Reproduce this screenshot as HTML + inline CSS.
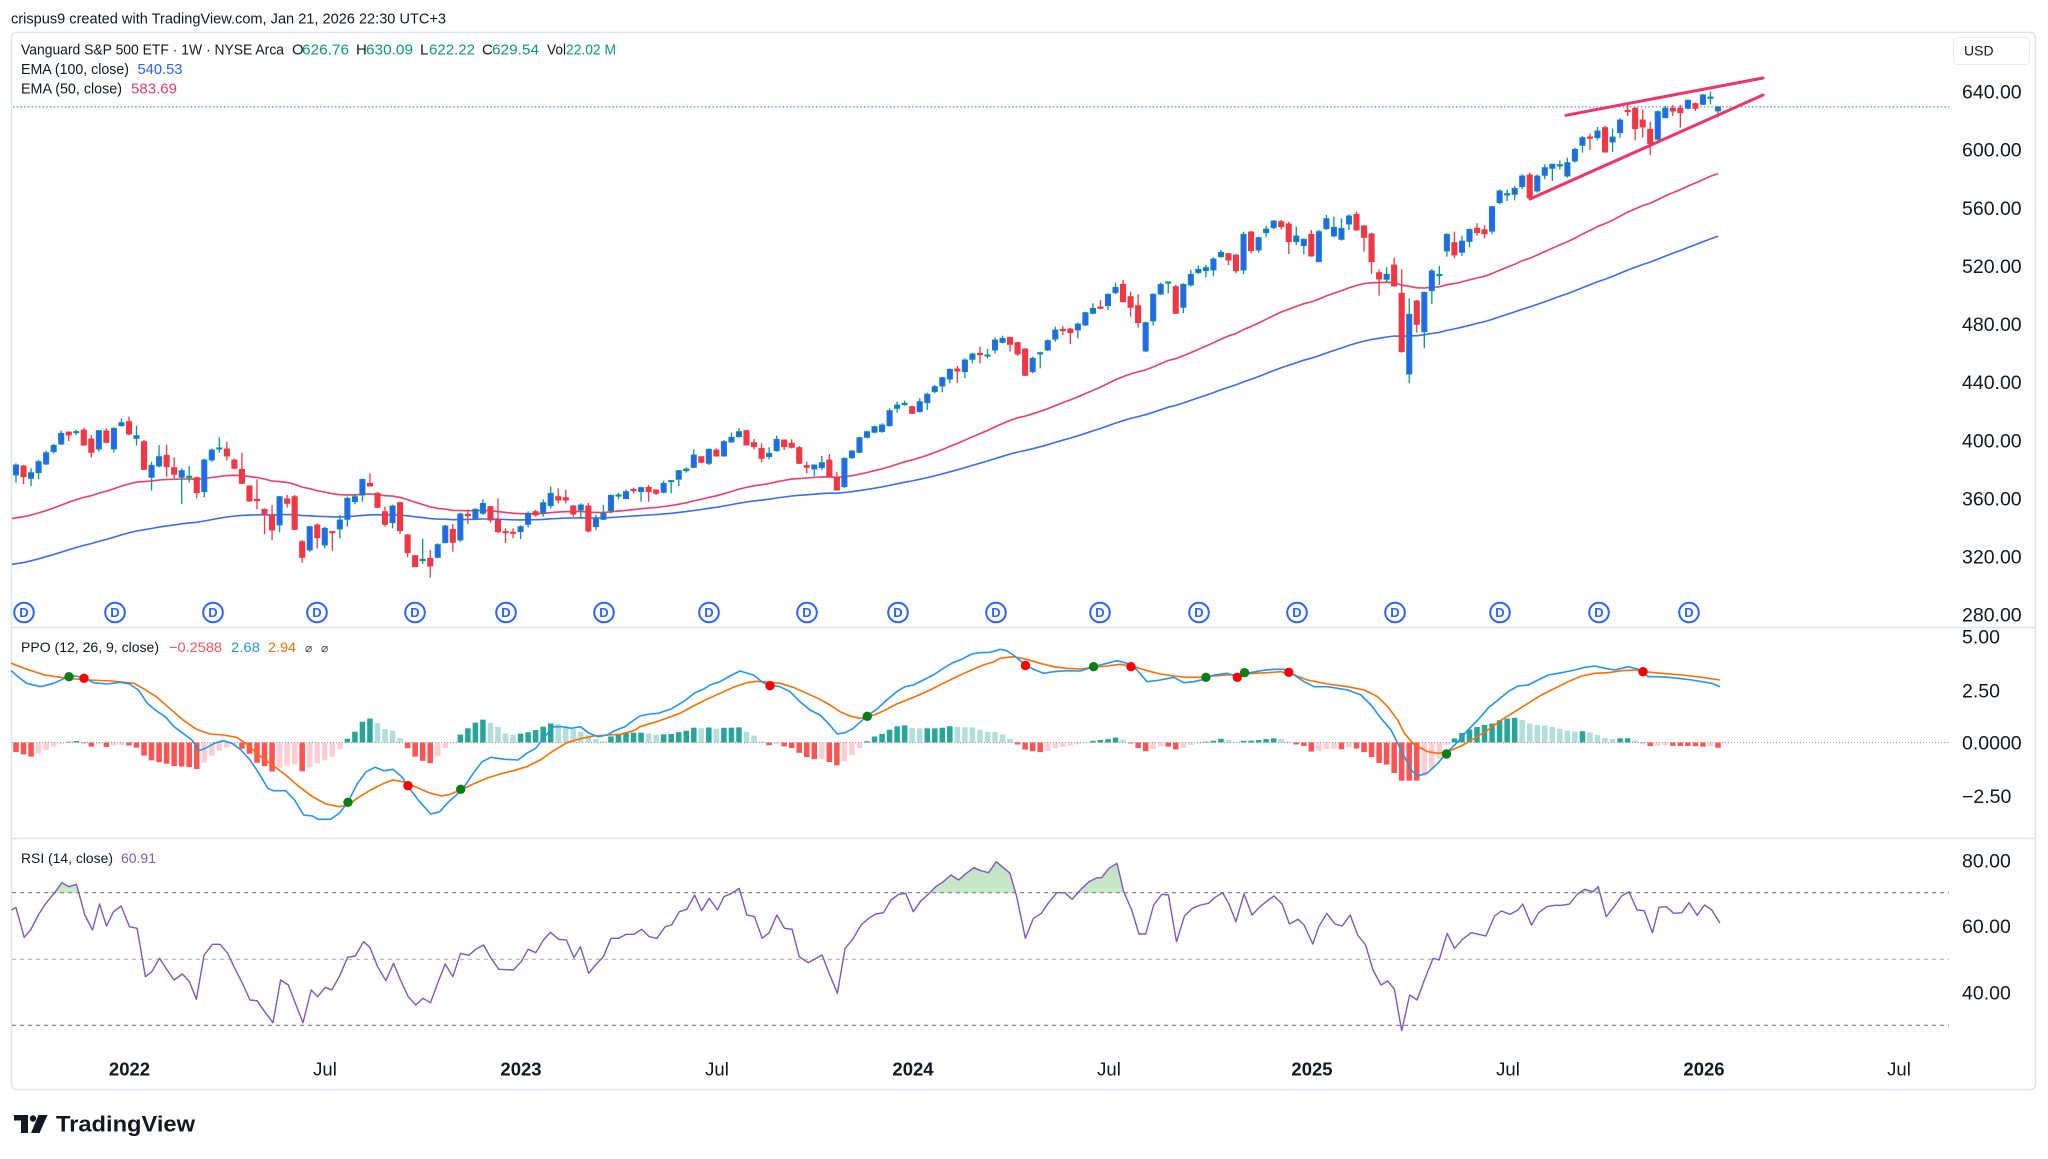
<!DOCTYPE html>
<html><head><meta charset="utf-8"><title>VOO chart</title>
<style>
html,body{margin:0;padding:0;background:#fff;width:2048px;height:1159px;overflow:hidden}
svg{display:block}
text{font-family:"Liberation Sans",Arial,sans-serif}
</style></head>
<body>
<svg id="c" width="2048" height="1159" viewBox="0 0 2048 1159" xmlns="http://www.w3.org/2000/svg">
<defs>
<linearGradient id="gOB" x1="0" y1="0" x2="0" y2="1"><stop offset="0" stop-color="#4caf50" stop-opacity="0.35"/><stop offset="1" stop-color="#4caf50" stop-opacity="0.04"/></linearGradient>
<linearGradient id="gOS" x1="0" y1="0" x2="0" y2="1"><stop offset="0" stop-color="#f23645" stop-opacity="0.04"/><stop offset="1" stop-color="#f23645" stop-opacity="0.35"/></linearGradient>
<clipPath id="cOB"><rect x="0" y="838" width="2048" height="55"/></clipPath>
<clipPath id="cOS"><rect x="0" y="1025.3" width="2048" height="40"/></clipPath>
</defs>
<rect width="2048" height="1159" fill="#fff"/>
<rect x="11.5" y="32.5" width="2024" height="1057" rx="5" fill="#fff" stroke="#e0e3eb" stroke-width="1.5"/>
<line x1="11.5" y1="627.5" x2="2035.5" y2="627.5" stroke="#e0e3eb" stroke-width="1.5"/>
<line x1="11.5" y1="838.5" x2="2035.5" y2="838.5" stroke="#e0e3eb" stroke-width="1.5"/>

<g id="gMain"></g>
<g id="gPPO"></g>
<g id="gRSI"></g>

<!-- title & legends -->
<text x="11" y="23.5" font-size="15" fill="#131722" textLength="435" lengthAdjust="spacingAndGlyphs">crispus9 created with TradingView.com, Jan 21, 2026 22:30 UTC+3</text>
<g font-size="15" fill="#131722">
<text x="21" y="54.5" textLength="263" lengthAdjust="spacingAndGlyphs">Vanguard S&amp;P 500 ETF · 1W · NYSE Arca</text>
<text x="292" y="54.5">O</text><text x="302" y="54.5" fill="#089981" textLength="47" lengthAdjust="spacingAndGlyphs">626.76</text>
<text x="356" y="54.5">H</text><text x="366" y="54.5" fill="#089981" textLength="47" lengthAdjust="spacingAndGlyphs">630.09</text>
<text x="420" y="54.5">L</text><text x="429" y="54.5" fill="#089981" textLength="46" lengthAdjust="spacingAndGlyphs">622.22</text>
<text x="482" y="54.5">C</text><text x="492" y="54.5" fill="#089981" textLength="47" lengthAdjust="spacingAndGlyphs">629.54</text>
<text x="547" y="54.5" textLength="19" lengthAdjust="spacingAndGlyphs">Vol</text><text x="566" y="54.5" fill="#089981" textLength="50" lengthAdjust="spacingAndGlyphs">22.02 M</text>
<text x="21" y="74" textLength="108" lengthAdjust="spacingAndGlyphs">EMA (100, close)</text>
<text x="137.5" y="74" fill="#2962ff" textLength="45" lengthAdjust="spacingAndGlyphs">540.53</text>
<text x="21" y="93.5" textLength="101" lengthAdjust="spacingAndGlyphs">EMA (50, close)</text>
<text x="131" y="93.5" fill="#f23a6b" textLength="46" lengthAdjust="spacingAndGlyphs">583.69</text>
</g>
<g font-size="14" fill="#131722">
<text x="21" y="652" textLength="138" lengthAdjust="spacingAndGlyphs">PPO (12, 26, 9, close)</text>
<text x="169" y="652" fill="#f7525f" textLength="53" lengthAdjust="spacingAndGlyphs">−0.2588</text>
<text x="231" y="652" fill="#2196f3" textLength="29" lengthAdjust="spacingAndGlyphs">2.68</text>
<text x="268" y="652" fill="#ff6d00" textLength="28" lengthAdjust="spacingAndGlyphs">2.94</text>
<text x="305" y="652" fill="#434651" style="font-family:'DejaVu Sans',sans-serif" font-size="12">⌀</text>
<text x="321" y="652" fill="#434651" style="font-family:'DejaVu Sans',sans-serif" font-size="12">⌀</text>
<text x="21" y="863" textLength="92" lengthAdjust="spacingAndGlyphs">RSI (14, close)</text>
<text x="121" y="863" fill="#7e57c2" textLength="35" lengthAdjust="spacingAndGlyphs">60.91</text>
</g>

<!-- price axis -->
<rect x="1953.5" y="37.5" width="76" height="27" rx="4" fill="#fff" stroke="#e9ebf0"/>
<text x="1964" y="55.5" font-size="14" fill="#131722">USD</text>
<g font-size="19.5" fill="#131722">
<text x="1962" y="98.5">640.00</text>
<text x="1962" y="156.6">600.00</text>
<text x="1962" y="214.8">560.00</text>
<text x="1962" y="272.9">520.00</text>
<text x="1962" y="331">480.00</text>
<text x="1962" y="389.2">440.00</text>
<text x="1962" y="447.3">400.00</text>
<text x="1962" y="505.4">360.00</text>
<text x="1962" y="563.6">320.00</text>
<text x="1962" y="621.7">280.00</text>
<text x="1962" y="643.5">5.00</text>
<text x="1962" y="697.5">2.50</text>
<text x="1962" y="749.5">0.0000</text>
<text x="1962" y="803">−2.50</text>
<text x="1962" y="867.5">80.00</text>
<text x="1962" y="933">60.00</text>
<text x="1962" y="999.5">40.00</text>
</g>
<!-- time axis -->
<g font-size="18.5" fill="#131722" text-anchor="middle">
<text x="129.5" y="1075.5" font-weight="bold">2022</text>
<text x="325" y="1075.5">Jul</text>
<text x="521" y="1075.5" font-weight="bold">2023</text>
<text x="717" y="1075.5">Jul</text>
<text x="913" y="1075.5" font-weight="bold">2024</text>
<text x="1109" y="1075.5">Jul</text>
<text x="1312" y="1075.5" font-weight="bold">2025</text>
<text x="1508" y="1075.5">Jul</text>
<text x="1704" y="1075.5" font-weight="bold">2026</text>
<text x="1899" y="1075.5">Jul</text>
</g>
<!-- logo -->
<g fill="#131722">
<rect x="14" y="1115" width="14" height="5.5"/>
<rect x="21" y="1115" width="7" height="18"/>
<circle cx="33" cy="1118.5" r="3.2"/>
<polygon points="38.5,1115 47.5,1115 39.5,1133 31,1133"/>
</g>
<text x="56" y="1131.5" font-size="22" font-weight="bold" fill="#131722" textLength="139" lengthAdjust="spacingAndGlyphs">TradingView</text>
</svg>

<script>
(function(){
const NS='http://www.w3.org/2000/svg';
function el(p,t,a){const e=document.createElementNS(NS,t);for(const k in a)e.setAttribute(k,a[k]);p.appendChild(e);return e;}
const X0=16, DX=(1718-16)/226;
const cx=i=>X0+DX*i;
const py=p=>91.7+(640-p)*1.4533;
const yp=y=>640-(y-91.7)/1.4533;
const A=z=>380+z/3, B=z=>260+z/3, C=z=>150+z/3, P=py, E=z=>z/3+1;
const segs=[
[A,[
['u',255,285,250,308],['d',258,290,255,312],['u',278,295,265,318],['u',245,278,240,298],['u',218,252,212,255],
['u',196,215,192,220],['u',160,192,152,195],['d',156,165,155,183],['u',155,158,150,165],['d',150,195,143,198],
['d',177,217,165,232],['u',152,207,150,215],['d',153,187,145,190],['u',145,207,142,218],['u',128,137,115,140],
['d',125,162,110,166],['u',167,175,137,197],['d',185,268,180,270],['u',256,292,245,332],['u',230,258,195,262],
['d',226,260,195,290],['d',263,283,232,295],['u',272,292,265,372],['u',289,292,258,307],['d',293,338,290,355],
['u',240,335,236,352],['u',210,240,206,245],['u',204,207,172,218],['d',207,228,186,242],['d',240,265,236,268],
['d',268,310,218,312],['d',318,363,316,365],['d',358,362,298,388],['d',388,402,385,463],['d',405,450,375,480],
['u',350,435,348,457],['d',357,370,345,383],['d',350,448,345,450],['d',485,532,480,548],['u',440,510,437,515],
['d',435,473,430,505],['u',445,495,440,505],['d',455,458,453,512],['u',420,447,405,475],['u',355,418,350,440],
['u',350,365,342,373],['u',298,345,296,365],['d',310,318,280,320],['d',340,382,336,384],['d',395,433,380,440],
['u',378,428,374,445],['d',368,452,365,462],['d',465,518,462,532],['d',527,560,525,560],['u',538,542,476,552],
['d',535,558,510,593],['u',494,532,490,535],['u',438,488,435,490],['d',448,487,432,515],['u',402,480,398,485],
['d',403,407,390,432],['u',388,415,385,418]
]],
[B,[
['u',730,760,718,765],['d',740,780,738,788],['d',780,815,715,820],['d',815,818,805,849],['d',817,820,805,835],
['u',800,815,796,837],['u',760,793,754,802],['d',755,765,750,770],['u',728,760,718,770],['u',700,737,680,745],
['d',710,720,685,730],['d',713,720,690,730],['d',738,762,735,770],['u',735,750,730,775],['d',738,813,729,817],
['u',775,800,765,810],['u',760,778,735,780],['u',706,752,704,760],['u',705,708,698,718],['u',695,716,688,718],
['d',689,691,683,700],['u',683,695,680,725],['d',682,695,675,725],['d',690,700,688,705],['u',670,697,662,700],
['u',662,665,660,700],['u',632,658,630,678],['u',627,632,622,638],['u',585,622,568,624],['d',590,607,589,610],
['u',568,610,565,615],['d',570,588,565,590],['u',545,588,540,590],['u',532,546,518,548],['u',515,530,505,533],
['d',512,555,510,556],['d',548,560,537,568],['d',565,595,550,607],['u',580,590,562,598],['u',538,572,527,575],
['d',540,560,538,570],['d',550,562,538,565],['d',563,610,558,612],['d',617,622,605,640],['u',615,627,613,650],
['u',608,623,588,630],['d',600,650,582,652],['d',652,690,635,692],['u',595,680,592,685],['u',573,593,570,597],
['u',533,577,530,580],['u',515,532,512,535],['u',500,517,497,520],['u',495,515,490,518],['u',452,497,445,500],
['u',435,445,425,458],['u',430,434,422,437],['d',440,460,437,462],['u',425,455,415,458],['u',403,428,398,450],
['u',380,395,375,400],['u',353,378,350,397],['u',328,357,325,370],['d',327,333,318,368]
]],
[C,[
['u',630,665,625,685],['u',612,628,608,640],['d',610,614,590,640],['u',615,618,597,625],['u',570,600,562,610],
['u',565,577,557,580],['d',562,583,560,605],['d',578,612,575,618],['d',597,676,595,678],['u',625,665,620,670],
['u',608,612,605,655],['u',572,600,568,603],['u',540,567,530,575],['d',538,542,528,555],['d',537,548,533,582],
['u',522,540,518,565],['u',488,525,485,528],['u',475,490,460,493],['d',471,475,450,478],['u',433,467,430,480],
['u',412,428,398,432],['d',403,455,390,458],['d',440,472,425,500],['d',467,518,433,533],['u',518,603,515,606],
['u',433,513,430,527],['u',403,432,398,435],['u',396,399,395,430],['d',410,490,405,492],['u',403,472,400,490],
['u',373,405,360,410],['u',358,368,347,372],['u',353,362,345,382],['u',327,360,322,378],['u',307,320,300,323],
['d',311,330,310,345],['d',315,362,313,370],['u',253,360,245,373],['d',246,302,243,310],['u',263,300,260,308],
['u',237,248,228,262],['u',213,233,210,237],['d',215,230,210,238],['d',222,275,215,312],['u',258,275,230,285],
['u',268,287,265,313],['d',253,318,240,320],['u',245,335,240,335],['u',206,236,195,240],['u',232,258,200,262],
['u',235,268,205,272],['u',198,222,193,240],['d',193,240,185,242],['d',228,262,225,305],['d',252,335,248,372],
['d',368,387,358,437],['u',373,388,352,398],['d',345,408,323,410],['d',430,605,358,608],['u',493,672,445,700],
['d',453,523,450,548],['u',427,545,425,595],['u',363,422,357,462],['u',373,377,348,405],['u',253,303,250,320],
['d',278,315,245,325]
]],
[P,[
['u',537.2,529.5,541,527],['u',545.2,537,546,533],['d',546,543.1,549.5,541],['d',545,542.2,548,539],['u',560.9,544,561.3,542]
]],
[E,[
['u',570,605,565,610],['u',578,582,565,600],['u',562,580,555,598],['u',525,557,520,565],['d',522,590,515,595],
['u',525,570,520,575],['u',500,523,490,535],['u',490,502,488,540],['u',491,495,478,505],['u',485,525,470,530],
['u',445,480,440,485],['u',410,433,405,455],['d',408,412,398,447],['u',390,410,378,418],['d',380,453,375,455],
['u',408,423,383,453],['u',357,395,352,410],['d',328,332,310,345],['d',322,383,318,418],['d',357,378,325,410],
['d',385,428,362,462],['u',332,415,328,418],['u',322,350,315,352],['d',322,330,312,345],['d',322,335,312,380],
['u',298,322,295,325],['d',308,322,305,330],['u',282,310,278,312],['u',288,292,272,310]
]],
[P,[['u',629.54,626.76,630.09,622.22]]]
];
const cs=[];
segs.forEach(s=>s[1].forEach(r=>{const f=s[0];cs.push({u:r[0]==='u',t:f(r[1]),b:f(r[2]),h:f(r[3]),l:f(r[4])});}));

const gM=document.getElementById('gMain');
// EMAs
function ema(seed,n){const a=2/(n+1);let e=seed;const out=[];cs.forEach((c,i)=>{const cl=yp(c.u?c.t:c.b);if(i>0)e+=a*(cl-e);out.push(e);});return out;}
function pathOf(pts){return pts.map((p,k)=>(k?'L':'M')+p[0].toFixed(1)+' '+p[1].toFixed(1)).join(' ');}
const e100=ema(314.8,100), e50=ema(346.4,50);
el(gM,'path',{d:pathOf(e100.map((v,i)=>[i?cx(i):12,py(v)])),fill:'none',stroke:'#3a6cf4','stroke-width':1.6});
el(gM,'path',{d:pathOf(e50.map((v,i)=>[i?cx(i):12,py(v)])),fill:'none',stroke:'#f23a6b','stroke-width':1.6});
// price line
el(gM,'line',{x1:13,y1:106.9,x2:1949,y2:106.9,stroke:'#5b84ff','stroke-width':1.2,'stroke-dasharray':'1.5 2.2'});
// candles
cs.forEach((c,i)=>{const x=cx(i);const wc=c.u?'#089981':'#f23645';
 el(gM,'line',{x1:x,y1:c.h,x2:x,y2:c.l,stroke:wc,'stroke-width':1.3});
 let h=c.b-c.t; let y=c.t; if(h<1.2){y=(c.t+c.b)/2-0.6;h=1.2;}
 el(gM,'rect',{x:x-2.6,y:y,width:5.2,height:h,fill:c.u?'#2962ff':'#f23645',stroke:wc,'stroke-width':0.9});
});
// trend lines
el(gM,'line',{x1:1566,y1:115.3,x2:1763,y2:78,stroke:'#f2336a','stroke-width':3,'stroke-linecap':'round'});
el(gM,'line',{x1:1530,y1:199,x2:1763,y2:95,stroke:'#f2336a','stroke-width':3,'stroke-linecap':'round'});
// D markers
[24,115,213,317,415,506,604,709,807,898,996,1100,1199,1297,1395,1500,1599,1689].forEach(x=>{
 el(gM,'circle',{cx:x,cy:612.5,r:9.8,fill:'#fff',stroke:'#2962ff','stroke-width':2});
 const t=el(gM,'text',{x:x,y:617,'text-anchor':'middle','font-size':13,'font-weight':'bold',fill:'#2962ff'});t.textContent='D';
});

// PPO pane
const gP=document.getElementById('gPPO');
const z3x=z=>z/2.24, z3y=z=>580+z/3, z10x=z=>640+z/3, z10y=z=>600+z/3, z9x=z=>1000+z*0.6684, z9y=z=>620+z/3;
const mk=(a,fx,fy)=>a.map(p=>[fx(p[0]),fy(p[1])]);
function comb(a3,a10,a9){
 const p3=mk(a3,z3x,z3y).filter(p=>p[0]<640), p10=mk(a10,z10x,z10y).filter(p=>p[0]>=640&&p[0]<1000), p9=mk(a9,z9x,z9y);
 return p3.concat(p10,p9);
}
function interp(pts,x){if(x<=pts[0][0])return pts[0][1];for(let k=1;k<pts.length;k++){if(x<=pts[k][0]){const a=pts[k-1],b=pts[k];return a[1]+(b[1]-a[1])*(x-a[0])/(b[0]-a[0]);}}return pts[pts.length-1][1];}
const h3=[[25,512],[45,520],[70,530],[95,515],[120,500],[140,490],[160,484],[175,483],[190,490],[205,500],[220,492],[240,502],[260,495],[285,495],[305,502],[325,530],[345,545],[365,548],[390,558],[410,560],[430,562],[440,568],[460,545],[480,520],[500,505],[525,497],[540,505],[555,515],[575,548],[595,560],[610,575],[630,560],[660,553],[680,578],[700,555],[720,545],[740,535],[760,510],[775,480],[795,455],[812,425],[830,415],[845,428],[865,450],[880,452],[895,472],[910,500],[930,530],[950,545],[965,550],[980,530],[1000,500],[1015,490],[1030,465],[1045,448],[1062,430],[1080,418],[1098,428],[1115,440],[1130,460],[1150,465],[1170,460],[1190,455],[1210,445],[1230,430],[1250,432],[1270,440],[1290,450],[1310,460],[1330,475],[1350,485],[1370,468],[1390,460],[1410,458],[1430,458]];
const h10=[[5,398],[27,400],[50,405],[72,403],[95,402],[118,396],[141,392],[164,382],[186,385],[209,382],[231,387],[254,383],[277,383],[300,382],[322,397],[345,408],[367,426],[390,437],[412,432],[435,440],[458,445],[480,460],[503,473],[525,478],[548,477],[570,487],[593,497],[616,482],[638,463],[661,442],[683,422],[706,408],[728,401],[751,388],[774,378],[796,376],[819,385],[842,385],[864,385],[887,385],[910,383],[932,378],[955,381],[977,382],[1000,382],[1022,390],[1045,396],[1068,396]];
const h9=[[0,340],[10,348],[20,365],[40,392],[55,395],[65,398],[80,385],[95,380],[110,375],[125,370],[140,362],[160,358],[175,352],[185,360],[200,375],[215,395],[230,388],[245,375],[265,390],[285,375],[300,370],[320,362],[333,355],[345,362],[355,368],[365,362],[380,362],[395,358],[410,355],[425,358],[440,372],[455,378],[468,398],[480,390],[495,385],[512,388],[525,380],[540,390],[555,410],[568,430],[582,435],[597,482],[610,482],[625,482],[640,460],[655,425],[668,375],[680,355],[690,340],[700,330],[712,322],[725,315],[738,310],[750,298],[762,295],[775,293],[790,310],[805,315],[820,318],[835,325],[850,332],[862,335],[875,333],[888,340],[900,350],[912,358],[925,355],[940,355],[952,362],[965,372],[977,382],[990,375],[1000,377],[1012,378],[1024,378],[1035,378],[1050,380],[1065,378],[1077,385]];
const hist=comb(h3,h10,h9);
const Z=742.5;
let pv=0;
for(let i=0;i<cs.length;i++){const x=cx(i);const y=interp(hist,x);const v=Z-y;let col;
 if(v>=0)col=(v>=pv)?'#26a69a':'#b2dfdb';else col=(v<=pv)?'#ff5252':'#ffcdd2';
 pv=v;const hh=Math.max(Math.abs(v),0.8);
 el(gP,'rect',{x:x-2.75,y:v>=0?Z-hh:Z,width:5.5,height:hh,fill:col});
}
el(gP,'line',{x1:12,y1:Z,x2:1949,y2:Z,stroke:'#9598a1','stroke-width':1,'stroke-dasharray':'1 2'});
const b3=[[25,272],[40,290],[60,310],[90,320],[120,310],[150,292],[170,288],[190,295],[210,308],[240,312],[270,307],[290,312],[310,330],[330,370],[350,392],[370,410],[390,440],[410,460],[430,480],[445,512],[460,505],[480,490],[500,482],[520,490],[540,510],[560,540],[580,580],[600,625],[612,632],[640,632],[660,660],[680,705],[700,708],[712,718],[740,718],[760,700],[780,665],[800,612],[820,575],[840,562],[860,572],[880,568],[900,590],[920,630],[940,665],[965,702],[985,695],[1005,665],[1020,648],[1040,620],[1060,580],[1080,545],[1100,532],[1130,538],[1160,540],[1180,520],[1200,505],[1220,470],[1240,440],[1260,440],[1280,445],[1300,440],[1320,460],[1340,470],[1360,465],[1380,450],[1400,440],[1420,420]];
const b10=[[0,348],[30,342],[55,340],[95,326],[130,305],[165,278],[190,268],[210,255],[240,245],[270,228],[300,213],[340,225],[370,248],[390,255],[420,260],[450,275],[480,305],[510,330],[540,345],[565,370],[592,402],[615,398],[640,385],[665,362],[685,345],[710,328],[740,300],[770,275],[795,260],[820,255],[850,240],[880,225],[910,205],[935,190],[965,178],[995,162],[1020,158],[1050,157],[1075,150]];
const b9=[[0,88],[10,92],[20,105],[35,130],[50,148],[65,160],[80,155],[100,152],[120,153],[140,140],[160,130],[175,122],[190,130],[205,150],[220,185],[240,180],[260,172],[275,188],[290,185],[305,178],[320,165],[340,160],[355,170],[370,160],[390,152],[410,148],[425,148],[440,165],[455,185],[470,200],[490,200],[505,205],[520,210],[540,225],[555,255],[570,295],[585,330],[595,370],[605,410],[615,450],[625,468],[640,458],[655,430],[670,395],[685,365],[700,330],[715,300],[730,265],[745,240],[760,215],[775,198],[790,195],[805,180],[820,165],[840,158],[860,150],[875,142],[890,138],[905,145],[920,150],[940,140],[955,148],[970,170],[985,170],[1000,172],[1015,175],[1035,180],[1050,185],[1065,190],[1077,200]];
const o3=[[25,250],[60,268],[100,285],[150,295],[200,300],[250,303],[300,310],[320,325],[350,350],[380,385],[410,420],[440,448],[470,462],[500,465],[530,472],[550,490],[580,525],[610,555],[640,585],[670,620],[700,650],[730,672],[760,680],[780,675],[800,655],[830,630],[860,610],[880,600],[905,606],[930,620],[960,638],[990,648],[1010,642],[1032,630],[1060,612],[1090,595],[1120,582],[1150,572],[1180,560],[1210,540],[1240,512],[1270,488],[1300,476],[1330,468],[1360,465],[1390,463],[1420,452]];
const o10=[[0,380],[40,368],[80,355],[120,340],[160,318],[200,298],[240,280],[280,262],[320,248],[350,244],[390,247],[420,250],[460,262],[500,280],[540,298],[570,315],[600,335],[630,348],[660,355],[685,350],[710,342],[740,328],[770,312],[800,300],[830,288],[870,270],[910,250],[950,230],[990,212],[1030,195],[1060,186]];
const o9=[[0,115],[20,110],[40,118],[60,130],[80,140],[100,145],[120,147],[140,142],[160,138],[180,133],[200,140],[220,152],[240,162],[260,168],[280,172],[300,172],[320,168],[340,165],[360,163],[380,160],[400,158],[420,155],[440,165],[460,180],[490,192],[520,200],[545,210],[565,230],[580,260],[595,300],[605,340],[620,375],[640,395],[655,400],[670,395],[690,378],[710,355],[730,330],[750,300],[770,275],[790,250],[810,225],[830,205],[850,185],[870,168],[890,160],[910,158],[930,152],[950,150],[965,155],[990,160],[1020,165],[1050,172],[1077,180]];
el(gP,'path',{d:pathOf(comb(o3,o10,o9)),fill:'none',stroke:'#ff6d00','stroke-width':1.6,'stroke-linejoin':'round'});
el(gP,'path',{d:pathOf(comb(b3,b10,b9)),fill:'none',stroke:'#2196f3','stroke-width':1.6,'stroke-linejoin':'round'});
[[69,676.7,'g'],[84,678.3,'r'],[348,802.3,'g'],[408,785.7,'r'],[460.7,789.3,'g'],[770,685.7,'r'],[867.3,716.3,'g'],[1025.5,665.5,'r'],[1093.6,666.7,'g'],[1131,666.7,'r'],[1205.9,677.3,'g'],[1237.3,677.3,'r'],[1244.5,672.7,'g'],[1288.8,672.3,'r'],[1446.5,754,'g'],[1643,671.7,'r']].forEach(d=>{
 el(gP,'circle',{cx:d[0],cy:d[1],r:4.7,fill:d[2]==='g'?'#087f10':'#ff0000'});
});

// RSI pane
const gR=document.getElementById('gRSI');
[[892.7,'#787b86'],[959.3,'#b2b5be'],[1025.3,'#787b86']].forEach(l=>{
 el(gR,'line',{x1:12,y1:l[0],x2:1949,y2:l[0],stroke:l[1],'stroke-width':1.2,'stroke-dasharray':'4 4'});
});
const r8=[[18,240],[25,232],[38,322],[48,300],[60,255],[72,220],[85,190],[97,158],[108,170],[120,163],[133,255],[145,300],[156,222],[167,288],[178,245],[190,228],[203,290],[215,295],[228,440],[238,425],[250,385],[262,420],[273,450],[286,432],[297,455],[308,508],[320,375],[333,343],[345,343],[357,370],[368,415],[380,460],[392,510],[403,512],[415,545],[428,578],[440,450],[452,465],[463,520],[475,578],[488,480],[498,500],[510,472],[520,480],[532,440],[545,382],[557,378],[570,335],[580,352],[592,410],[605,452],[617,400],[628,450],[640,500],[652,525],[663,505],[675,518],[687,455],[698,402],[710,440],[722,370],[735,376],[746,358],[758,345],[770,385],[782,418],[805,420],[817,395],[828,358],[840,368],[852,330],[863,307],[876,328],[888,330],[900,383],[910,350],[923,430],[935,402],[946,380],[958,325],[970,325],[982,313],[994,313],[1006,298],[1018,320],[1030,325],[1043,290],[1053,285],[1065,245],[1077,238],[1089,195],[1100,242],[1112,205],[1125,240],[1135,200],[1147,190],[1159,175],[1171,255],[1183,260],[1195,325],[1206,308],[1218,255],[1230,295],[1242,298],[1253,380],[1267,398],[1289,375],[1300,430],[1313,490],[1325,355],[1337,328],[1350,285],[1362,265],[1373,252],[1385,248],[1397,210],[1409,193],[1420,190],[1432,245],[1444,212],[1456,192],[1467,170],[1479,155],[1491,135],[1503,150],[1515,130],[1527,113],[1538,122],[1550,128],[1562,95]];
const r9=[[0,720],[15,760],[25,830],[38,955],[50,895],[62,880],[72,850],[85,818],[97,818],[108,838],[120,810],[133,785],[145,773],[152,773],[163,745],[175,730],[185,815],[197,870],[208,942],[218,942],[230,855],[242,823],[252,825],[264,965],[276,888],[288,865],[300,855],[312,850],[322,832],[333,818],[342,850],[353,905],[365,822],[377,885],[389,860],[400,842],[410,828],[422,852],[433,912],[446,898],[455,915],[468,972],[477,920],[489,880],[501,912],[512,918],[524,885],[535,945],[547,975],[558,1050],[570,1095],[580,1083],[590,1108],[601,1232],[613,1125],[624,1140],[635,1080],[648,1015],[657,1020],[669,940],[680,985],[692,958],[705,938],[716,943],[727,948],[740,888],[750,873],[763,883],[775,870],[782,852],[795,915],[806,878],[818,860],[830,856],[841,856],[852,852],[864,822],[875,808],[887,815],[895,800],[907,890],[918,862],[930,828],[941,815],[953,870],[964,872],[976,938],[986,862],[997,860],[1008,880],[1020,878],[1031,848],[1043,886],[1054,855],[1065,870],[1077,909]];
const rsi=mk(r8,z=>z*0.6378,z=>830+z/3).concat(mk(r9,z9x,z9y).filter(p=>p[0]>1000.5));
const poly=rsi.map(p=>p[0].toFixed(1)+','+p[1].toFixed(1)).join(' ');
const f1=rsi[0][0], f2=rsi[rsi.length-1][0];
el(gR,'polygon',{points:poly+' '+f2+',892.7 '+f1+',892.7',fill:'url(#gOB)','clip-path':'url(#cOB)'});
el(gR,'polygon',{points:poly+' '+f2+',1025.3 '+f1+',1025.3',fill:'url(#gOS)','clip-path':'url(#cOS)'});
el(gR,'path',{d:pathOf(rsi),fill:'none',stroke:'#7e57c2','stroke-width':1.4,'stroke-linejoin':'round'});
})();
</script>
</body></html>
